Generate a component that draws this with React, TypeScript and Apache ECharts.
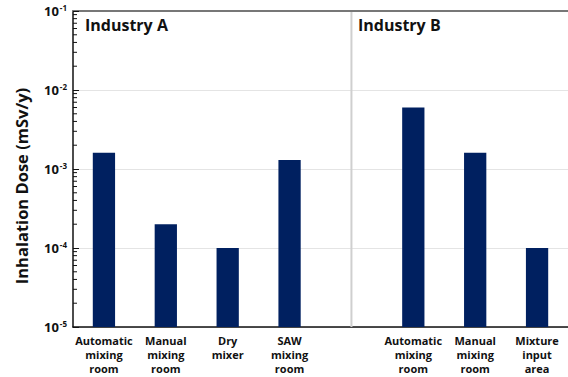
import React, { useEffect, useRef } from "react";
import * as echarts from "echarts";

const categories = [
  "Automatic\nmixing\nroom",
  "Manual\nmixing\nroom",
  "Dry\nmixer",
  "SAW\nmixing\nroom",
  "",
  "Automatic\nmixing\nroom",
  "Manual\nmixing\nroom",
  "Mixture\ninput\narea",
];
const doseValues: (number | null)[] = [1.6e-3, 2e-4, 1e-4, 1.3e-3, null, 6e-3, 1.6e-3, 1e-4];
const groupLabels = ["Industry A", "Industry B"];
const yAxisTitle = "Inhalation Dose (mSv/y)";
const dividerIndex = 4;
const yMin = 1e-5;
const yMax = 1e-1;
const minorMultipliers = [2, 3, 4, 5, 6, 7, 8, 9];
const decadeExponents = [-5, -4, -3, -2];

const FONT = "'Open Sans', 'Noto Sans', sans-serif";
const BAR_COLOR = "#002060";

export default function App() {
  const ref = useRef<HTMLDivElement>(null);
  useEffect(() => {
    if (!ref.current) return;
    const chart = echarts.init(ref.current, undefined, { renderer: "svg" });
    const barData = doseValues.map((v, i) => [i, v == null ? "-" : v]);
    chart.setOption({
      animation: false,
      textStyle: { fontFamily: FONT },
      grid: { left: 73, right: -1, top: 11, bottom: 50 },
      xAxis: [
        {
          type: "category",
          data: categories,
          axisLine: { lineStyle: { color: "#111", width: 1.5 } },
          axisTick: { show: false },
          axisLabel: {
            interval: 0,
            color: "#111",
            fontWeight: "bold",
            fontSize: 11,
            lineHeight: 14,
            margin: 6,
            fontFamily: FONT,
          },
        },
        {
          type: "category",
          data: categories,
          position: "top",
          axisLine: { lineStyle: { color: "#777", width: 2 } },
          axisTick: { show: false },
          axisLabel: { show: false },
        },
      ],
      yAxis: {
        type: "log",
        logBase: 10,
        min: yMin,
        max: yMax,
        axisLine: { show: true, lineStyle: { color: "#111", width: 1.5 } },
        axisTick: { show: true, inside: true, length: 6, lineStyle: { color: "#111" } },
        splitLine: { show: true, lineStyle: { color: "#e4e4e4", width: 1 } },
        axisLabel: {
          margin: 6,
          formatter: (v: number) => `{b|10}{s|${Math.round(Math.log10(v))}}`,
          rich: {
            b: { fontSize: 13, fontWeight: "bold", color: "#111", fontFamily: FONT, lineHeight: 16 },
            s: {
              fontSize: 8,
              fontWeight: "bold",
              color: "#111",
              fontFamily: FONT,
              verticalAlign: "top",
              lineHeight: 16,
              padding: [0, 0, 7, 1],
            },
          },
        },
      },
      series: [
        {
          type: "custom",
          name: "dose",
          data: barData,
          encode: { x: 0, y: 1 },
          renderItem: (params: any, api: any) => {
            const v = api.value(1);
            if (v == null || isNaN(v)) return null;
            const top = api.coord([api.value(0), v]);
            const base = api.coord([api.value(0), yMin]);
            const w = api.size([1, 0])[0] * 0.36;
            return {
              type: "rect",
              shape: { x: top[0] - w / 2, y: top[1], width: w, height: base[1] - top[1] },
              style: { fill: BAR_COLOR },
            };
          },
        },
        {
          type: "custom",
          name: "divider",
          data: [[dividerIndex, yMax]],
          silent: true,
          renderItem: (params: any, api: any) => {
            const a = api.coord([dividerIndex, yMax]);
            const b = api.coord([dividerIndex, yMin]);
            return {
              type: "line",
              shape: { x1: a[0], y1: a[1] + 1, x2: b[0], y2: b[1] },
              style: { stroke: "#cfcfcf", lineWidth: 2 },
            };
          },
        },
        {
          type: "custom",
          name: "minorTicks",
          data: [[0, yMin]],
          silent: true,
          renderItem: (params: any, api: any) => {
            const x0 = (params.coordSys as any).x;
            const children: any[] = [];
            decadeExponents.forEach((e) => {
              minorMultipliers.forEach((m) => {
                const y = api.coord([0, m * Math.pow(10, e)])[1];
                children.push({
                  type: "line",
                  shape: { x1: x0, y1: y, x2: x0 + 4, y2: y },
                  style: { stroke: "#111", lineWidth: 1 },
                });
              });
            });
            return { type: "group", children };
          },
        },
      ],
      graphic: [
        {
          type: "text",
          left: 85,
          top: 17,
          style: { text: groupLabels[0], font: `bold 16px ${FONT}`, fill: "#111" },
        },
        {
          type: "text",
          left: 358,
          top: 17,
          style: { text: groupLabels[1], font: `bold 16px ${FONT}`, fill: "#111" },
        },
        {
          type: "text",
          x: 21,
          y: 186,
          rotation: Math.PI / 2,
          style: {
            text: yAxisTitle,
            font: `bold 16.5px ${FONT}`,
            fill: "#111",
            align: "center",
            verticalAlign: "middle",
          },
        },
      ],
    });
    return () => chart.dispose();
  }, []);
  return (
    <div
      ref={ref}
      style={{ position: "absolute", left: 0, top: 0, width: 568, height: 377, background: "#fff" }}
    />
  );
}
